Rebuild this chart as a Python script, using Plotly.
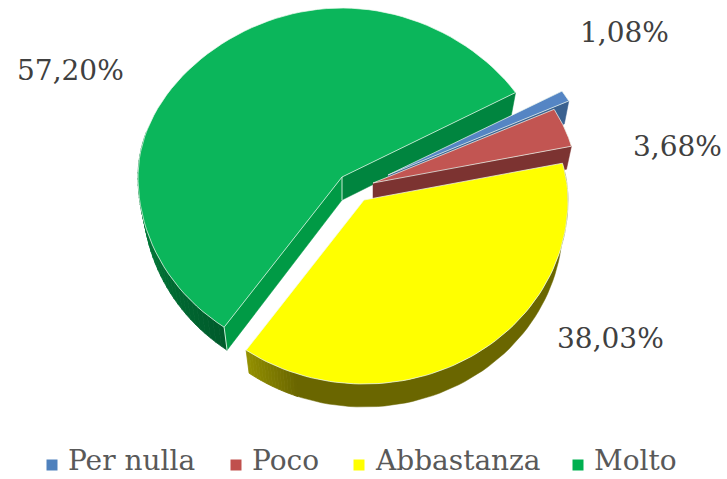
import math
import plotly.graph_objects as go

# Survey shares, drawn clockwise starting from the Per nulla slice
categories = ["Per nulla", "Poco", "Abbastanza", "Molto"]
values = [1.08, 3.68, 38.03, 57.20]

# Slice styling
top_colors = ["#5585c4", "#c25552", "#ffff00", "#0bb65b"]
radial_wall_colors = ["#3a6190", "#7c3331", None, "#00853f"]

# Exploded slice apex in canvas pixels
apex = [(388, 175), (373, 183), (364, 200), (342, 177)]

# Projection of the tilted disc
RX, RY_BACK, RY_FRONT = 204.0, 169.0, 184.0
DEPTH = 23.0
BOTTOM_SCALE = 0.975
FIRST_ANGLE = 59.6


def warp(theta):
    # Small angular skew caused by the perspective of the view
    return theta + 0.9 * (1 - math.cos(math.radians(theta)))


def rim(center, theta, bottom=False):
    t = math.radians(warp(theta))
    s, c = math.sin(t), math.cos(t)
    ry = RY_BACK if c > 0 else RY_FRONT
    narrowing = 1 - 0.07 * c * c if c > 0 else 1
    dx = RX * s * narrowing * (BOTTOM_SCALE if bottom else 1)
    return center[0] + dx, center[1] - ry * c + (DEPTH if bottom else 0)


def sweep(a, b, n=80):
    return [a + (b - a) * i / n for i in range(n + 1)]


def mix(c1, c2, f):
    f = max(0.0, min(1.0, f))
    rgb = [int(c1[i:i + 2], 16) * (1 - f) + int(c2[i:i + 2], 16) * f for i in (1, 3, 5)]
    return "#%02x%02x%02x" % tuple(round(v) for v in rgb)


fig = go.Figure()


def poly(points, fill, line=None, width=1.0, name=""):
    xs = [p[0] for p in points] + [points[0][0]]
    ys = [p[1] for p in points] + [points[0][1]]
    fig.add_trace(go.Scatter(
        x=xs, y=ys, mode="lines", fill="toself", fillcolor=fill,
        line=dict(color=line or fill, width=width),
        hoverinfo="skip" if not name else "text", text=name,
        showlegend=False,
    ))


def edge(points, color="rgba(235,250,240,0.85)", width=1.0):
    fig.add_trace(go.Scatter(
        x=[p[0] for p in points], y=[p[1] for p in points], mode="lines",
        line=dict(color=color, width=width), hoverinfo="skip", showlegend=False,
    ))


def radial_wall(center, theta, color):
    bottom_center = (center[0], center[1] + DEPTH)
    poly([center, rim(center, theta), rim(center, theta, True), bottom_center], color, width=0.5)


def wall_band(center, a, b, color):
    angles = sweep(a, b, 60)
    upper = [rim(center, t) for t in angles]
    lower = [rim(center, t, True) for t in reversed(angles)]
    poly(upper + lower, color, width=0.5)


def outer_wall(center, a, b, shade, step=2.0):
    n = max(1, int(abs(b - a) / step))
    angles = sweep(a, b, n)
    for t0, t1 in zip(angles[:-1], angles[1:]):
        poly([rim(center, t0), rim(center, t1), rim(center, t1, True), rim(center, t0, True)],
             shade((t0 + t1) / 2), width=0.8)


def top_face(center, a, b, color, name):
    points = [center] + [rim(center, t) for t in sweep(a, b)]
    poly(points, color, line="rgba(240,250,240,0.8)", width=0.9, name=name)


# Cumulative angular extents of each slice
spans = []
start = FIRST_ANGLE
for v in values:
    stop = start + v * 3.6
    spans.append((start, stop))
    start = stop

# Molto: back slice, sides first
m_a, m_b = spans[3]
outer_wall(apex[3], m_a, 285, lambda t: mix("#005a2b", "#008a40", (t - m_a) / 70))
poly([apex[3], rim(apex[3], m_a), rim(apex[3], m_a, True), (apex[3][0], apex[3][1] + DEPTH)], "#009a45", width=0.5)
radial_wall(apex[3], m_b, radial_wall_colors[3])
top_face(apex[3], m_a, m_b, top_colors[3], categories[3])
edge([apex[3], (apex[3][0], apex[3][1] + DEPTH)])
edge([rim(apex[3], m_a), rim(apex[3], m_a, True)])

# Per nulla and Poco: only the trailing cut side shows
for i in (0, 1):
    a, b = spans[i]
    radial_wall(apex[i], b, radial_wall_colors[i])
    top_face(apex[i], a, b, top_colors[i], categories[i])

# Abbastanza: flat olive side, fading lighter towards the exposed tip
y_a, y_b = spans[2]
wall_band(apex[2], y_a, y_b - 15, "#6a6600")
outer_wall(apex[2], y_b - 16, y_b, lambda t: mix("#6a6600", "#939000", (t - (y_b - 16)) / 16), step=1.0)
top_face(apex[2], y_a, y_b, top_colors[2], categories[2])

# Legend: square swatches followed by their names
legend_marker_x = [52, 236, 359, 578]
legend_y = 465
fig.add_trace(go.Scatter(
    x=legend_marker_x, y=[legend_y] * 4, mode="markers",
    marker=dict(symbol="square", size=11, color=["#4f81bd", "#c0504d", "#ffff00", "#00b050"]),
    hoverinfo="skip", showlegend=False,
))

annotations = []
for name, mx in zip(categories, legend_marker_x):
    annotations.append(dict(
        x=mx + 14, y=479, text=name, xref="x", yref="y", xanchor="left", yanchor="bottom",
        showarrow=False, font=dict(family="DejaVu Serif", size=28, color="#595959"),
    ))

# Percentage labels use a decimal comma
label_pos = [(624, 32), (677, 146), (610, 338), (70, 70)]
for v, (lx, ly) in zip(values, label_pos):
    annotations.append(dict(
        x=lx, y=ly, text=f"{v:.2f}%".replace(".", ","), xref="x", yref="y",
        xanchor="center", yanchor="middle", showarrow=False,
        font=dict(family="DejaVu Serif", size=28, color="#404040"),
    ))

fig.update_layout(
    width=727, height=479, autosize=False,
    margin=dict(l=0, r=0, t=0, b=0),
    paper_bgcolor="white", plot_bgcolor="white",
    xaxis=dict(range=[0, 727], visible=False, fixedrange=True),
    yaxis=dict(range=[479, 0], visible=False, fixedrange=True),
    annotations=annotations,
    showlegend=False,
)

fig.write_html("out.html")
